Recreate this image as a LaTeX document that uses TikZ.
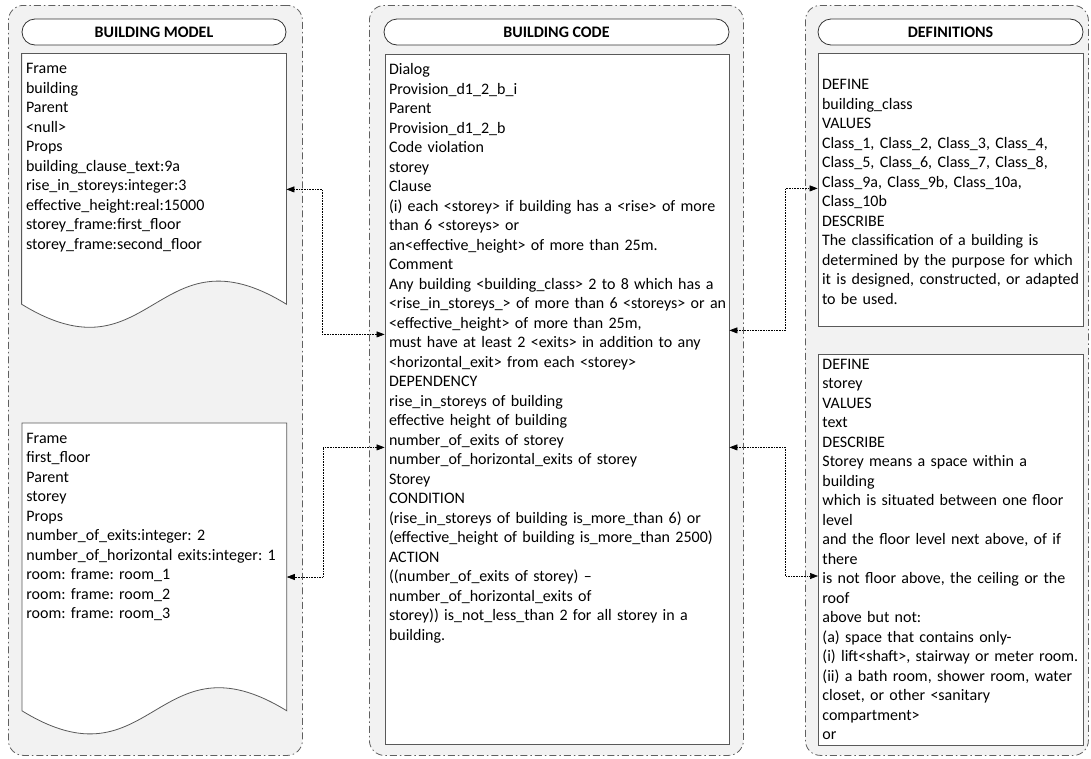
\documentclass[tikz,border=0pt]{standalone}
\usepackage{fontspec}
\setmainfont{Carlito}
\usetikzlibrary{arrows.meta, positioning, backgrounds}
\definecolor{panelGray}{RGB}{242,242,242}
\definecolor{rimGray}{RGB}{96,96,96}
\definecolor{lineGray}{RGB}{89,89,89}

\begin{document}
\begin{tikzpicture}[
  x=1pt, y=-1pt,
  group/.style={
    rectangle, rounded corners=15pt, anchor=north west,
    draw=rimGray, fill=panelGray, line width=0.8pt,
    dash pattern=on 7pt off 3pt on 1.5pt off 3pt
  },
  header/.style={
    rectangle, rounded corners=13pt, minimum height=26pt,
    draw=black!80, fill=white, line width=0.8pt,
    font=\fontsize{16}{19.5}\selectfont\bfseries
  },
  card/.style={
    rectangle, anchor=north west,
    draw=lineGray, fill=white, line width=0.8pt,
    inner xsep=4pt, inner ysep=0pt, text height=20pt,
    align=left, font=\fontsize{16}{19.5}\selectfont\frenchspacing
  },
  doc/.style={card, draw=none, fill=none},
  link/.style={<->, densely dotted, line width=0.6pt, black},
  >={Triangle[length=8pt, width=6pt]}
]
\useasboundingbox (0,0) rectangle (1091,758);

% column headers
\node[header, minimum width=264pt] (modelhead) at (154,32) {BUILDING MODEL};
\node[header, minimum width=345pt] (codehead)  at (556.5,32) {BUILDING CODE};
\node[header, minimum width=265pt] (defhead)   at (950.5,32) {DEFINITIONS};

% building model frames
\node[doc, text width=256pt, text depth=230pt,
      below=8pt of modelhead.south west, anchor=north west] (frameA) {%
  Frame\\ building\\ Parent\\ <null>\\ Props\\
  building\_clause\_text:9a\\
  rise\_in\_storeys:integer:3\\
  effective\_height:real:15000\\
  storey\_frame:first\_floor\\
  storey\_frame:second\_floor};
\node[doc, text width=256pt, text depth=267pt] (frameB) at (22,423) {%
  Frame\\ first\_floor\\ Parent\\ storey\\ Props\\
  number\_of\_exits:integer: 2\\
  number\_of\_horizontal exits:integer: 1\\
  room: frame: room\_1\\
  room: frame: room\_2\\
  room: frame: room\_3};

% building code provision
\node[card, text width=336pt, text depth=670pt,
      below=9pt of codehead.south west, anchor=north west, xshift=1pt] (codebox) {%
  Dialog\\ Provision\_d1\_2\_b\_i\\ Parent\\ Provision\_d1\_2\_b\\
  Code violation\\ storey\\ Clause\\
  \mbox{(i) each <storey> if building has a <rise> of more}\\
  than 6 <storeys> or\\
  an<effective\_height> of more than 25m.\\
  Comment\\
  \mbox{Any building <building\_class> 2 to 8 which has a}\\
  \mbox{<rise\_in\_storeys\_> of more than 6 <storeys> or an}\\
  <effective\_height> of more than 25m,\\
  \mbox{must have at least 2 <exits> in addition to any}\\
  <horizontal\_exit> from each <storey>\\
  DEPENDENCY\\
  rise\_in\_storeys of building\\
  effective height of building\\
  number\_of\_exits of storey\\
  number\_of\_horizontal\_exits of storey\\
  Storey\\
  CONDITION\\
  \mbox{(rise\_in\_storeys of building is\_more\_than 6) or}\\
  \mbox{(effective\_height of building is\_more\_than 2500)}\\
  ACTION\\
  ((number\_of\_exits of storey) \textendash\\
  number\_of\_horizontal\_exits of\\
  \mbox{storey)) is\_not\_less\_than 2 for all storey in a}\\
  building.};

% definitions
\node[card, text width=257pt, text height=36pt, text depth=237pt,
      below=8pt of defhead.south west, anchor=north west] (defA) {%
  DEFINE\\ building\_class\\ VALUES\\
  \mbox{Class\_1, Class\_2, Class\_3, Class\_4,}\\
  \mbox{Class\_5, Class\_6, Class\_7, Class\_8,}\\
  Class\_9a, Class\_9b, Class\_10a,\\
  Class\_10b\\
  DESCRIBE\\
  The classification of a building is\\
  \mbox{determined by the purpose for which}\\
  \mbox{it is designed, constructed, or adapted}\\
  to be used.};
\node[card, text width=257pt, text height=15pt, text depth=376pt] (defB) at (818,354) {%
  DEFINE\\ storey\\ VALUES\\ text\\ DESCRIBE\\
  Storey means a space within a\\
  building\\
  \mbox{which is situated between one floor}\\
  level\\
  \mbox{and the floor level next above, of if}\\
  there\\
  \mbox{is not floor above, the ceiling or the}\\
  roof\\
  above but not:\\
  (a) space that contains only-\\
  \mbox{(i) lift<shaft>, stairway or meter room.}\\
  \mbox{(ii) a bath room, shower room, water}\\
  closet, or other <sanitary\\
  compartment>\\
  or};

% panels and page outlines behind the text
\begin{scope}[on background layer]
  \node[group, minimum width=294pt, minimum height=750pt] (modelgrp) at (8,5) {};
  \node[group, minimum width=374pt, minimum height=750pt] (codegrp)  at (369,5) {};
  \node[group, minimum width=283pt, minimum height=750pt] (defgrp)   at (805,5) {};
  \draw[lineGray, fill=white, line width=0.8pt]
    (frameA.north west) -- (frameA.south west)
    .. controls +(130,80) and +(-130,-80) .. (frameA.south east)
    -- (frameA.north east) -- cycle;
  \draw[lineGray, fill=white, line width=0.8pt]
    (frameB.north west) -- (frameB.south west)
    .. controls +(130,80) and +(-130,-80) .. (frameB.south east)
    -- (frameB.north east) -- cycle;
\end{scope}

% links
\draw[link] ([yshift=-136pt]frameA.north east) -- ++(36,0) |- ([yshift=-280pt]codebox.north west);
\draw[link] ([yshift=-154pt]frameB.north east) -- ++(36,0) |- ([yshift=-393pt]codebox.north west);
\draw[link] ([yshift=-276pt]codebox.north east) -- ++(56,0) |- ([yshift=-135pt]defA.north west);
\draw[link] ([yshift=-393pt]codebox.north east) -- ++(56,0) |- ([yshift=-222pt]defB.north west);
\end{tikzpicture}
\end{document}
